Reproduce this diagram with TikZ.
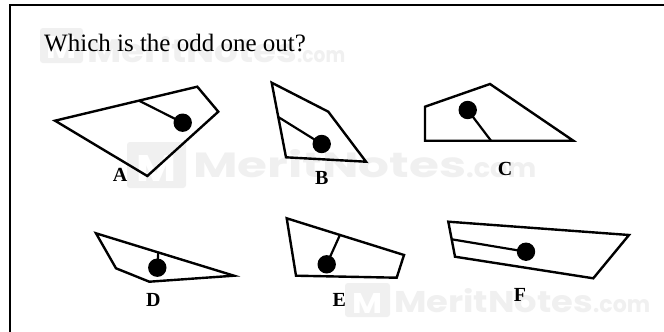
\documentclass[tikz,border=0pt]{standalone}
\usepackage{fontspec}
\usepackage{graphicx}
\setmainfont{Liberation Serif}
\newfontfamily\wmfont{Poppins}
\usetikzlibrary{calc}
\tikzset{
  fig/.style={draw=black, line width=2.4pt, line join=miter},
  stem/.style={draw=black, line width=2.2pt},
  blob/.style={fill=black},
  lab/.style={font=\fontsize{20}{20}\selectfont\bfseries, inner sep=0pt},
  wmtext/.style={text=black!6, inner sep=0pt, anchor=base west, font=\wmfont\bfseries},
  wmbox/.style={fill=black!6, rounded corners=3pt},
  wmm/.style={text=white, inner sep=0pt, font=\wmfont\bfseries}
}
\begin{document}
\begin{tikzpicture}[x=1pt,y=-1pt]
\useasboundingbox (0,0) rectangle (664,332);
\clip (0,0) rectangle (664,332);
\fill[white] (0,0) rectangle (664,332);
% frame
\draw[line width=2pt] (9.5,5) rectangle (700,400);

% watermarks
\fill[wmbox] (40,28) rectangle (83,63);
\node[wmm] (wm1m) at (61.5,47) {\resizebox{30pt}{22pt}{M}};
\node[wmtext] (wm1) at (87,62) {\resizebox{210pt}{26pt}{MeritNotes}};
\node[wmtext] (wm1c) at (297,62) {\resizebox{48pt}{12pt}{.com}};

\fill[wmbox] (127,142) rectangle (186,188);
\node[wmm] (wm2m) at (156.5,168) {\resizebox{40pt}{26pt}{M}};
\node[wmtext] (wm2) at (193,177) {\resizebox{273pt}{28pt}{MeritNotes}};
\node[wmtext] (wm2c) at (466,177) {\resizebox{70pt}{15pt}{.com}};

\fill[wmbox] (345,283) rectangle (390,317);
\node[wmm] (wm3m) at (367.5,303) {\resizebox{30pt}{20pt}{M}};
\node[wmtext] (wm3) at (394,312) {\resizebox{199pt}{24pt}{MeritNotes}};
\node[wmtext] (wm3c) at (593,312) {\resizebox{57pt}{13pt}{.com}};

% title
\node[anchor=base west, inner sep=0pt, font=\fontsize{25}{25}\selectfont] (title) at (44,51) {Which is the odd one out?};

% A
\coordinate (A1) at (55,120.7);
\coordinate (A2) at (197.3,86.7);
\coordinate (A3) at (218.3,111.7);
\coordinate (A4) at (147.3,176);
\draw[fig] (A1)--(A2)--(A3)--(A4)--cycle;
\coordinate (As) at ($(A1)!0.59!(A2)$);
\coordinate (Ad) at (182.7,122.7);
\draw[stem] (As)--(Ad);
\fill[blob] (Ad) circle (9.2);
\node[lab] (labA) at (120,175) {A};

% B
\coordinate (B1) at (271.7,82.7);
\coordinate (B2) at (328.3,111.7);
\coordinate (B3) at (366,161.7);
\coordinate (B4) at (286,157.3);
\draw[fig] (B1)--(B2)--(B3)--(B4)--cycle;
\coordinate (Bs) at ($(B1)!0.46!(B4)$);
\coordinate (Bd) at (321.7,144);
\draw[stem] (Bs)--(Bd);
\fill[blob] (Bd) circle (9.2);
\node[lab] (labB) at (321.7,178.3) {B};

% C
\coordinate (C1) at (425,106.7);
\coordinate (C2) at (490,84);
\coordinate (C3) at (573.3,140.7);
\coordinate (C4) at (425,140.7);
\draw[fig] (C1)--(C2)--(C3)--(C4)--cycle;
\coordinate (Cs) at ($(C4)!0.445!(C3)$);
\coordinate (Cd) at (467.7,110);
\draw[stem] (Cs)--(Cd);
\fill[blob] (Cd) circle (9.2);
\node[lab] (labC) at (505,169.3) {C};

% D
\coordinate (D1) at (96,233.3);
\coordinate (D2) at (234,275.7);
\coordinate (D3) at (149.3,281.7);
\coordinate (D4) at (116,268.3);
\draw[fig] (D1)--(D2)--(D3)--(D4)--cycle;
\coordinate (Ds) at ($(D1)!0.451!(D2)$);
\coordinate (Dd) at (157.3,267.7);
\draw[stem] (Ds)--(Dd);
\fill[blob] (Dd) circle (9.2);
\node[lab] (labD) at (153.3,300) {D};

% E
\coordinate (E1) at (286.7,218.3);
\coordinate (E2) at (404,255);
\coordinate (E3) at (396.7,277.7);
\coordinate (E4) at (296,275.7);
\draw[fig] (E1)--(E2)--(E3)--(E4)--cycle;
\coordinate (Es) at ($(E1)!0.454!(E2)$);
\coordinate (Ed) at (326.7,264.3);
\draw[stem] (Es)--(Ed);
\fill[blob] (Ed) circle (9.2);
\node[lab] (labE) at (339.3,300) {E};

% F
\coordinate (F1) at (448.3,221.7);
\coordinate (F2) at (629,235);
\coordinate (F3) at (593.3,278.3);
\coordinate (F4) at (455,256.7);
\draw[fig] (F1)--(F2)--(F3)--(F4)--cycle;
\coordinate (Fs) at ($(F1)!0.503!(F4)$);
\coordinate (Fd) at (526,251.7);
\draw[stem] (Fs)--(Fd);
\fill[blob] (Fd) circle (9.2);
\node[lab] (labF) at (520,295) {F};
\end{tikzpicture}
\end{document}
